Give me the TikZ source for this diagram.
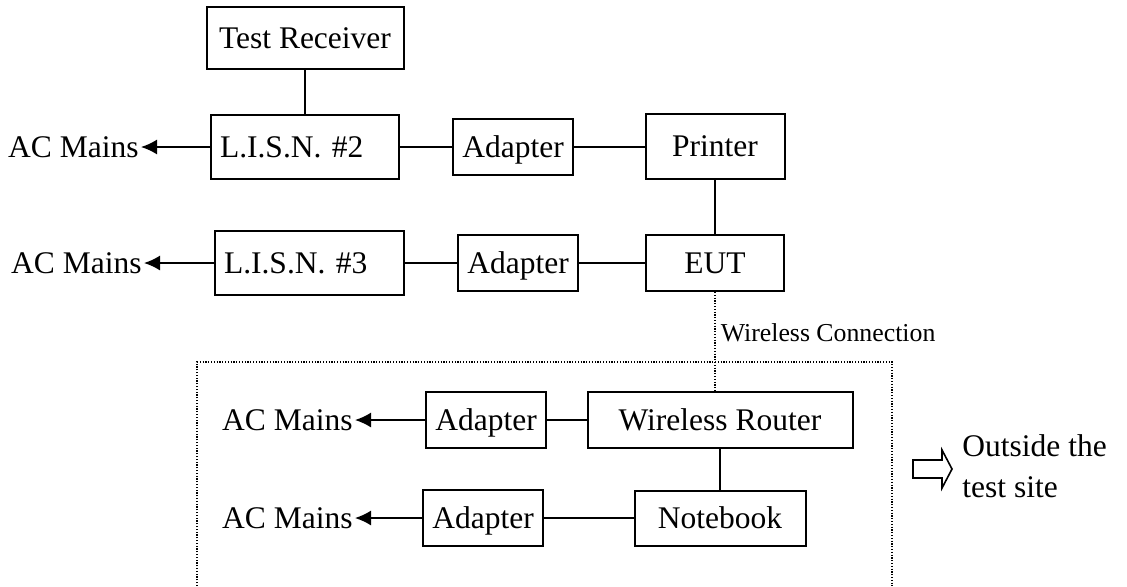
\documentclass[tikz,border=0pt]{standalone}
\usepackage{fontspec}
\setmainfont{Liberation Serif}
\usetikzlibrary{arrows.meta}

\tikzstyle{box}=[draw, line width=1pt, inner sep=0pt, minimum height=28pt, text height=10.4pt, text depth=0pt]
\tikzstyle{adapter}=[box, minimum width=60pt]
\tikzstyle{mains}=[anchor=east, inner sep=1pt]
\tikzstyle{edge} = [draw, line width=0.8pt, -]
\tikzstyle{feed} = [draw, line width=0.8pt, -{Latex[length=8pt,width=7.5pt]}]
\tikzstyle{radio} = [draw, line width=0.8pt, dash pattern=on 0.6pt off 0.8pt]

\begin{document}
\begin{tikzpicture}[x=0.5pt, y=-0.5pt, font=\fontsize{15.75}{20.5}\selectfont]
		\useasboundingbox (0,0) rectangle (1127,586);
		\node[box, minimum width=98.5pt, minimum height=31pt] (receiver) at (305,38) {Test Receiver};
		\node[box, minimum width=94pt, minimum height=32pt, text width=85pt, align=left] (lisn2) at (305,147) {L.I.S.N. \#2};
		\node[box, minimum width=94.5pt, minimum height=32pt, text width=85pt, align=left] (lisn3) at (309,263) {L.I.S.N. \#3};
		\node[box, minimum width=69.5pt, minimum height=32.5pt] (printer) at (715,146) {Printer};
		\node[box, minimum width=69pt] (eut) at (715,263) {EUT};
		\node[box, minimum width=132.5pt] (router) at (720,420) {Wireless Router};
		\node[box, minimum width=85.5pt, minimum height=27.5pt] (notebook) at (720,518) {Notebook};
		\foreach \pos/\name in {{(513,147)/adapter1}, {(518,263)/adapter2}, {(486,420)/adapter3}, {(483,518)/adapter4}}
			\node[adapter] (\name) at \pos {Adapter};
		\foreach \pos/\name in {{(141,147)/mains1}, {(144,263)/mains2}, {(355,420)/mains3}, {(355,518)/mains4}}
			\node[mains] (\name) at \pos {AC Mains};
		\foreach \source/ \dest in {lisn2/mains1, lisn3/mains2, adapter3/mains3, adapter4/mains4}
			\path[feed] (\source.west) -- (\dest.east);
		\foreach \source/ \dest in {receiver/lisn2, lisn2/adapter1, lisn3/adapter2, adapter2/eut, adapter3/router, adapter4/notebook, router/notebook}
			\path[edge] (\source) -- (\dest);
		\path[edge] (adapter1.east) -- (adapter1.east -| printer.west);
		\path[edge] (printer.south) -- (printer.south |- eut.north);
		\path[radio] (eut.south) -- (eut.south |- router.north)
			node[pos=0.41, anchor=west, inner sep=2.5pt, font=\fontsize{12.9}{15}\selectfont] (wireless) {Wireless Connection};
		% test site boundary, open at the bottom
		\path[radio] (197,586) |- (892,362) -- (892,586);
		\draw[line width=0.8pt] (913,460) -- (942,460) -- (942,450) -- (952,469) -- (942,488) -- (942,478) -- (913,478) -- cycle;
		\node[anchor=west, align=left, inner sep=0pt] (outside) at (962,466) {Outside the\\test site};
	\end{tikzpicture}
\end{document}
